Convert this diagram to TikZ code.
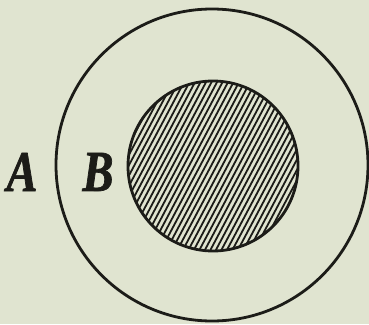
\documentclass[tikz,border=0pt]{standalone}
\usepackage{fontspec}
\newfontfamily\lblfont[FakeBold=1.2,FakeStretch=0.8]{Liberation Serif Bold Italic}
\usetikzlibrary{calc}
\begin{document}
\begin{tikzpicture}[x=1pt,y=-1pt,
  ring/.style={draw=ink, line width=2.8pt},
  hatch/.style={draw=ink, line width=1.8pt},
  lbl/.style={text=ink, font=\fontsize{58}{60}\selectfont\lblfont, inner sep=0pt}]
\definecolor{paper}{RGB}{224,228,208}
\definecolor{ink}{RGB}{28,28,24}
\fill[paper] (0,0) rectangle (369,324);
\useasboundingbox (0,0) rectangle (369,324);
\coordinate (c) at (212,165);
\coordinate (ci) at (213,166);
\begin{scope}
  \clip (ci) circle (85);
  \foreach \d in {-200,-194.5,...,200}
    \draw[hatch] ($(ci)+(\d-94,177)$) -- ($(ci)+(\d+94,-177)$);
\end{scope}
\node[circle, ring, minimum size=170pt, inner sep=0pt] (inner) at (ci) {};
\node[circle, ring, minimum size=312pt, inner sep=0pt] (outer) at (c) {};
\node[lbl] (A) at (22,172) {A};
\node[lbl] (B) at (98,172) {B};
\end{tikzpicture}
\end{document}
